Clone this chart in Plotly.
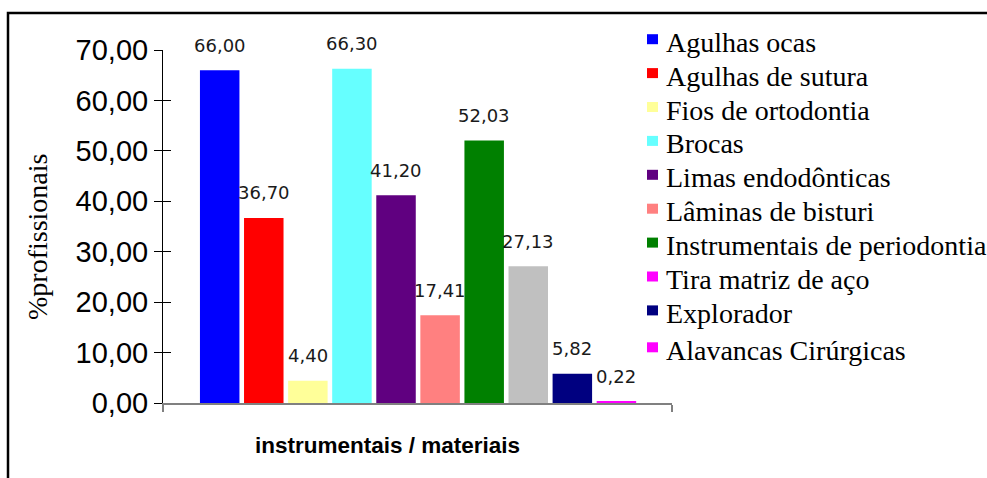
import plotly.graph_objects as go

# ---- data -------------------------------------------------------------
categories = [
    "Agulhas ocas", "Agulhas de sutura", "Fios de ortodontia", "Brocas",
    "Limas endodônticas", "Lâminas de bisturi", "Instrumentais de periodontia",
    "Tira matriz de aço", "Explorador", "Alavancas Cirúrgicas",
]
percent = [66.00, 36.70, 4.40, 66.30, 41.20, 17.41, 52.03, 27.13, 5.82, 0.22]
bar_colors = ["#0000FF", "#FF0000", "#FFFF99", "#66FFFF", "#600080",
              "#FF8080", "#008000", "#C0C0C0", "#000080", "#FF00FF"]
legend_colors = ["#0000FF", "#FF0000", "#FFFF99", "#66FFFF", "#600080",
                 "#FF8080", "#008000", "#FF00FF", "#000080", "#FF00FF"]
y_ticks = [0, 10, 20, 30, 40, 50, 60, 70]
y_title = "%profissionais"
x_title = "instrumentais / materiais"

# ---- geometry (pixels) ------------------------------------------------
W, H = 987, 478
PL, PR, PT, PB = 163, 672, 50, 403          # plot area edges
pitch = 44.08                                # px per bar slot
x_min = -(219.7 - PL) / pitch
x_max = x_min + (PR - PL) / pitch
positions = list(range(len(categories)))


def fx(px):
    return (px - PL) / (PR - PL)


def fy(py):
    return (PB - py) / (PB - PT)


def fmt(v):
    return f"{v:.2f}".replace(".", ",")


SANS = "Liberation Sans, Arial, sans-serif"
SERIF = "'Liberation Serif', 'Times New Roman', 'DejaVu Serif', serif"

fig = go.Figure()
fig.add_trace(go.Bar(
    x=positions, y=percent, width=0.896,
    marker=dict(color=bar_colors, line=dict(width=0)),
    hovertext=categories, showlegend=False,
))
# empty companion trace so the overlay axes (inner tick halves) get drawn
fig.add_trace(go.Scatter(x=[], y=[], xaxis="x2", yaxis="y2",
                         showlegend=False, hoverinfo="skip"))

annotations = []
# value labels above bars
for p, v in zip(positions, percent):
    annotations.append(dict(
        x=p, y=v, xref="x", yref="y", text=fmt(v), showarrow=False,
        yanchor="middle", xanchor="center", yshift=25,
        font=dict(family="DejaVu Sans", size=18, color="#1a1a1a"),
    ))

# axis titles
annotations.append(dict(
    x=fx(37.5), y=fy(237.5), xref="paper", yref="paper", text=y_title,
    textangle=-90, showarrow=False, xanchor="center", yanchor="middle",
    font=dict(family=SERIF, size=28, color="black"),
))
annotations.append(dict(
    x=fx(387), y=fy(445.5), xref="paper", yref="paper", text=x_title,
    showarrow=False, xanchor="center", yanchor="middle",
    font=dict(family=SANS, size=22.5, color="black", weight="bold"),
))

# legend: swatch + label per category
shapes = []
row_center = 42.2
for i, (name, col) in enumerate(zip(categories, legend_colors)):
    if i == len(categories) - 1:
        row_center += 3.0
    annotations.append(dict(
        x=fx(664), y=fy(row_center), xref="paper", yref="paper", text=name,
        showarrow=False, xanchor="left", yanchor="middle",
        font=dict(family=SERIF, size=28, color="black"),
    ))
    shapes.append(dict(
        type="rect", xref="paper", yref="paper",
        x0=fx(647), x1=fx(658), y0=fy(row_center - 8), y1=fy(row_center + 2),
        fillcolor=col, line=dict(width=0),
    ))
    row_center += 33.9

# outer frame
shapes.append(dict(
    type="rect", xref="paper", yref="paper",
    x0=fx(8), y0=fy(13), x1=fx(1000), y1=fy(500),
    line=dict(color="black", width=2.5), fillcolor="rgba(0,0,0,0)",
    layer="below",
))

fig.update_layout(
    width=W, height=H,
    margin=dict(l=PL, r=W - PR, t=PT, b=H - PB, pad=0),
    paper_bgcolor="white", plot_bgcolor="white",
    separators=",.",
    showlegend=False,
    annotations=annotations,
    shapes=shapes,
    xaxis=dict(
        range=[x_min, x_max], showgrid=False, zeroline=False,
        showline=True, linecolor="#808080", linewidth=2,
        tickvals=[x_min, x_max], ticks="outside", ticklen=7,
        tickcolor="#808080", tickwidth=1.5, showticklabels=False,
        fixedrange=True,
    ),
    yaxis=dict(
        range=[0, 70], showgrid=False, zeroline=False,
        showline=True, linecolor="black", linewidth=1,
        tickvals=y_ticks, tickformat=".2f", ticks="outside", ticklen=8,
        tickcolor="black", tickwidth=1,
        tickfont=dict(family=SANS, size=29, color="black"),
        fixedrange=True,
    ),
    xaxis2=dict(
        overlaying="x", anchor="y2", range=[x_min, x_max],
        showgrid=False, zeroline=False, showline=False,
        tickvals=[x_min, x_max], ticks="inside", ticklen=7,
        tickcolor="#808080", tickwidth=1.5, showticklabels=False,
        fixedrange=True,
    ),
    yaxis2=dict(
        overlaying="y", anchor="x2", side="left", range=[0, 70],
        showgrid=False, zeroline=False, showline=False,
        tickvals=y_ticks, ticks="inside", ticklen=8,
        tickcolor="black", tickwidth=1, showticklabels=False,
        fixedrange=True,
    ),
)

fig.write_html("out.html", config={"displayModeBar": False})
